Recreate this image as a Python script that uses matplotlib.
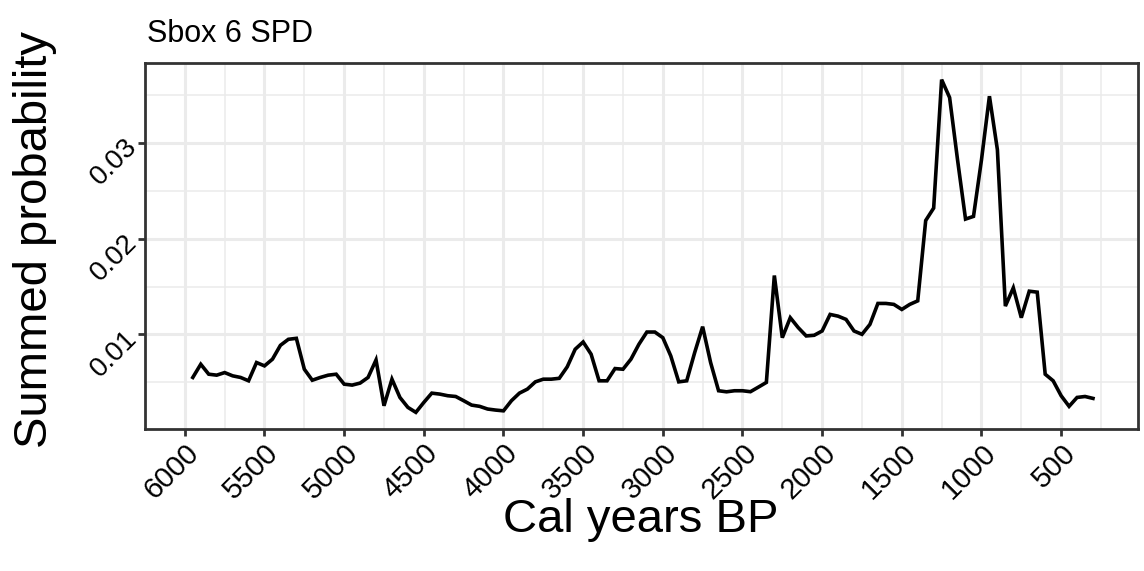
import matplotlib
matplotlib.use("Agg")
import matplotlib.pyplot as plt
import numpy as np

# calendar years BP, 50-year grid of the SPD
years = np.arange(5950, 299, -50)

# summed probability (5950 -> 300 BP)
spd = [0.00549, 0.00687, 0.00583, 0.00573, 0.00600, 0.00566, 0.00549, 0.00514,
       0.00705, 0.00670, 0.00740, 0.00885, 0.00948, 0.00958, 0.00635, 0.00520,
       0.00549, 0.00573, 0.00583, 0.00479, 0.00469, 0.00490, 0.00549, 0.00732,
       0.00253, 0.00531, 0.00340, 0.00236, 0.00184, 0.00288, 0.00385, 0.00375,
       0.00358, 0.00350, 0.00306, 0.00260, 0.00247, 0.00219, 0.00208, 0.00200,
       0.00306, 0.00385, 0.00427, 0.00503, 0.00531, 0.00531, 0.00540, 0.00660,
       0.00844, 0.00920, 0.00792, 0.00514, 0.00514, 0.00642, 0.00635, 0.00740,
       0.00896, 0.01024, 0.01024, 0.00965, 0.00774, 0.00503, 0.00514, 0.00809,
       0.01080, 0.00705, 0.00410, 0.00399, 0.00410, 0.00410, 0.00400, 0.00448,
       0.00497, 0.01615, 0.00965, 0.01174, 0.01070, 0.00983, 0.00990, 0.01035,
       0.01208, 0.01190, 0.01156, 0.01035, 0.01000, 0.01104, 0.01323, 0.01323,
       0.01313, 0.01260, 0.01313, 0.01350, 0.02190, 0.02320, 0.03663, 0.03476,
       0.02823, 0.02205, 0.02233, 0.02823, 0.03490, 0.02930, 0.01295, 0.01486,
       0.01174, 0.01451, 0.01441, 0.00583, 0.00514, 0.00358, 0.00247, 0.00340,
       0.00350, 0.00330]

x_ticks = [6000, 5500, 5000, 4500, 4000, 3500, 3000, 2500, 2000, 1500, 1000, 500]
x_minor = [6250, 5750, 5250, 4750, 4250, 3750, 3250, 2750, 2250, 1750, 1250, 750, 250]
y_ticks = [0.01, 0.02, 0.03]
y_minor = [0.005, 0.015, 0.025, 0.035]

plt.rcParams['font.family'] = ['Liberation Sans', 'DejaVu Sans']

fig = plt.figure(figsize=(11.44, 5.71), dpi=100)
ax = fig.add_axes([145/1144, 1-429/571, (1138-145)/1144, (429-63)/571])

# ggplot-like 5% expansion
xs = years.max() - years.min()
ax.set_xlim(years.max() + 0.05*xs, years.min() - 0.05*xs)
ys = max(spd) - min(spd)
ax.set_ylim(min(spd) - 0.05*ys, max(spd) + 0.05*ys)

ax.set_xticks(x_ticks)
ax.set_xticks(x_minor, minor=True)
ax.set_yticks(y_ticks)
ax.set_yticks(y_minor, minor=True)
ax.set_xticklabels([str(t) for t in x_ticks])
ax.set_yticklabels(["0.01", "0.02", "0.03"])

ax.grid(which='major', color='#ebebeb', linewidth=2.2)
ax.grid(which='minor', color='#ebebeb', linewidth=1.1)
ax.set_axisbelow(True)

ax.plot(years, spd, color='black', linewidth=2.6, solid_joinstyle='miter')

for s in ax.spines.values():
    s.set_color('#333333')
    s.set_linewidth(2)

ax.tick_params(which='major', length=5, width=2, color='#333333', labelcolor='black')
ax.tick_params(axis='x', labelsize=21, pad=2)
ax.tick_params(axis='y', labelsize=20)
ax.tick_params(which='minor', length=0)
for lab in ax.get_xticklabels():
    lab.set_rotation(45)
    lab.set_ha('right')
    lab.set_va('top')
    lab.set_rotation_mode('anchor')
for lab in ax.get_yticklabels():
    lab.set_rotation(45)
    lab.set_ha('right')
    lab.set_va('center')
    lab.set_rotation_mode('anchor')

fig.text(147/1144, 1-42/571, "Sbox 6 SPD", fontsize=22, ha='left', va='baseline')
fig.text(0.031, 1-240/571, "Summed probability", fontsize=34, rotation=90, ha='center', va='center')
fig.text(641/1144, 1-532/571, "Cal years BP", fontsize=34, ha='center', va='baseline')

fig.savefig("out.png", dpi=100)
